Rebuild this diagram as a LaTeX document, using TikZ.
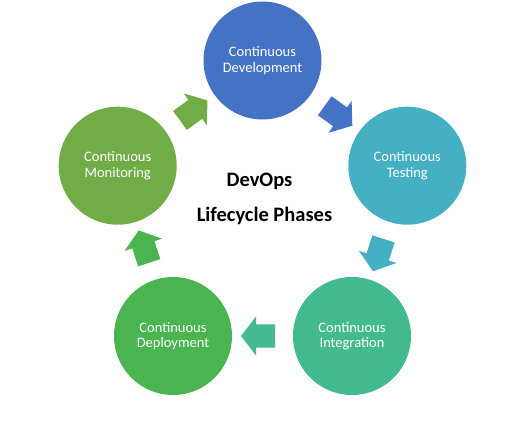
\documentclass[tikz,border=0pt]{standalone}
\usepackage{fontspec}
\setmainfont{Carlito}
\usetikzlibrary{shapes.arrows,calc}
\definecolor{cdev}{HTML}{4472C4}
\definecolor{ctest}{HTML}{45B0C4}
\definecolor{cint}{HTML}{44BB8E}
\definecolor{cdep}{HTML}{4AB450}
\definecolor{cmon}{HTML}{70AD47}
\tikzset{
  phase/.style={circle, minimum size=118pt, inner sep=0pt, text=white, align=center,
    font=\fontsize{14.5pt}{15.5pt}\selectfont},
  blockarrow/.style={single arrow, draw=none, minimum height=34pt, inner sep=11.5pt,
    single arrow head extend=8pt, single arrow tip angle=105},
  title/.style={font=\fontsize{20.5pt}{22pt}\selectfont\bfseries, anchor=base}
}
\begin{document}
\begin{tikzpicture}[x=1pt,y=1pt]
\useasboundingbox (0,0) rectangle (514,426);
\node[phase, fill=cdev]  (dev)  at (262.5,365.5) {Continuous\\Development};
\node[phase, fill=ctest] (test) at (407.3,260.3) {Continuous\\Testing};
\node[phase, fill=cint]  (int)  at (352,90)      {Continuous\\Integration};
\node[phase, fill=cdep]  (dep)  at (173,90)      {Continuous\\Deployment};
\node[phase, fill=cmon]  (mon)  at (117.7,260.3) {Continuous\\Monitoring};
\node[blockarrow, fill=cdev,  rotate=-36]  (a1) at ($(dev)!0.5!(test)$) {};
\node[blockarrow, fill=ctest, rotate=-108] (a2) at ($(test)!0.5!(int)$) {};
\node[blockarrow, fill=cint,  rotate=180]  (a3) at ($(int)!0.5!(dep)$) {};
\node[blockarrow, fill=cdep,  rotate=108]  (a4) at ($(dep)!0.5!(mon)$) {};
\node[blockarrow, fill=cmon,  rotate=36]   (a5) at ($(mon)!0.5!(dev)$) {};
\node[title] (t1) at (259.5,239.3) {DevOps};
\node[title] (t2) at (264.5,204.3) {Lifecycle Phases};
\end{tikzpicture}
\end{document}
